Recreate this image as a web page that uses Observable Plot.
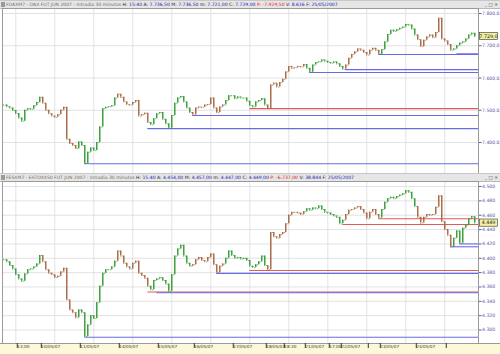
<!DOCTYPE html>
<html><head><meta charset="utf-8">
<script src="https://cdn.jsdelivr.net/npm/d3@7"></script>
<script src="https://cdn.jsdelivr.net/npm/@observablehq/plot@0.6"></script>
<style>
body{margin:0;background:#fff;font-family:"DejaVu Sans",sans-serif;}
#wrap{position:relative;width:500px;height:354px;overflow:hidden;background:#fff}
.hdr{position:absolute;left:0;width:500px;height:7px;background:#e6e6e6;border-top:1px solid #c8c8c8;border-bottom:1px solid #b8b8b8;font-size:4.55px;line-height:7px;white-space:nowrap;color:#7a6a5a;}
.hdr .ic{display:inline-block;width:4px;height:5px;background:#9a9a9a;margin:0 1px 0 1px;vertical-align:middle}
.hdr .b{color:#1a1ab0}.hdr .k{color:#222}.hdr .r{color:#e02020}
.btn{position:absolute;right:2px;top:1px;font-size:4.5px;line-height:5px;color:#333}
.panel{position:absolute;left:0}
#xband{position:absolute;left:0;top:343px;width:500px;height:11px;background:#fdf9d8;border-top:1px solid #999}
</style></head>
<body><div id="wrap">
<div class="hdr" style="top:0"><span class="ic"></span>FDAXM7 - DAX FUT JUN 2007 - Intradia 30 minutos <span class="k">H:</span> <span class="b">15:40</span> <span class="k">A:</span> <span class="b">7.736,50</span> <span class="k">M:</span> <span class="b">7.736,50</span> <span class="k">m:</span> <span class="b">7.721,00</span> <span class="k">C:</span> <span class="b">7.729,00</span> <span class="r">P: -7.929,50</span> <span class="k">V:</span> <span class="b">8.616</span> <span class="k">F:</span> <span class="b">25/05/2007</span><span class="btn">_ □ ×</span></div>
<div class="panel" id="p1" style="top:8px"></div>
<div class="hdr" style="top:173px"><span class="ic"></span>FESXM7 - ESTOXX50 FUT JUN 2007 - Intradia 30 minutos <span class="k">H:</span> <span class="b">15:40</span> <span class="k">A:</span> <span class="b">4.454,00</span> <span class="k">M:</span> <span class="b">4.457,00</span> <span class="k">m:</span> <span class="b">4.447,00</span> <span class="k">C:</span> <span class="b">4.449,00</span> <span class="r">P: -6.737,00</span> <span class="k">V:</span> <span class="b">38.844</span> <span class="k">F:</span> <span class="b">25/05/2007</span><span class="btn">_ □ ×</span></div>
<div id="xband"></div>
<div class="panel" id="p2" style="top:181px"></div>
</div>
<script>
// ---------- DATA ----------
// DAX future, 30-minute closes (sampled bars), 9/05/07 - 25/05/07
const daxClose = [7516,7511,7507,7499,7490,7476,7466,7500,7505,7503,
7514,7524,7540,7522,7500,7489,7482,7478,7486,7500,
7509,7410,7397,7391,7381,7402,7391,7335,7370,7383,
7375,7400,7448,7505,7509,7511,7514,7538,7550,7540,
7526,7518,7516,7524,7530,7482,7486,7491,7462,7455,
7474,7489,7493,7472,7458,7444,7484,7522,7538,7543,
7526,7507,7493,7485,7507,7510,7509,7516,7518,7538,
7507,7493,7510,7516,7530,7545,7545,7536,7541,7538,
7538,7528,7514,7510,7526,7530,7536,7516,7505,7578,
7584,7572,7586,7596,7619,7636,7630,7632,7636,7634,
7642,7630,7618,7640,7648,7650,7656,7652,7648,7646,
7650,7644,7636,7627,7640,7661,7673,7681,7690,7686,
7679,7671,7686,7692,7686,7674,7688,7712,7735,7748,
7744,7750,7754,7758,7766,7764,7752,7733,7719,7698,
7717,7727,7733,7725,7741,7785,7721,7715,7704,7686,
7690,7700,7708,7712,7721,7733,7739,7729];
// ESTX50 future, 30-minute closes
const esxClose = [4398,4395,4390,4385,4377,4371,4368,4378,4384,4385,
4388,4392,4404,4395,4384,4379,4377,4373,4375,4381,
4386,4342,4328,4324,4317,4328,4324,4291,4307,4320,
4316,4338,4361,4379,4384,4384,4388,4396,4410,4403,
4393,4388,4385,4393,4396,4379,4376,4372,4361,4356,
4369,4371,4373,4369,4364,4354,4377,4403,4413,4418,
4403,4393,4389,4391,4398,4401,4397,4395,4401,4406,
4391,4380,4389,4392,4400,4410,4404,4400,4401,4399,
4400,4397,4389,4387,4391,4395,4403,4390,4384,4436,
4430,4428,4433,4436,4448,4460,4464,4464,4463,4461,
4465,4469,4467,4470,4469,4473,4468,4464,4463,4461,
4459,4457,4448,4453,4461,4467,4468,4470,4472,4468,
4463,4455,4464,4468,4461,4456,4468,4478,4483,4485,
4483,4486,4488,4490,4494,4492,4483,4472,4457,4449,
4457,4461,4460,4461,4471,4487,4451,4440,4432,4416,
4428,4438,4421,4442,4446,4455,4458,4449];
// trend regime switches: [bar index, direction]
const daxTrend = [[0,"up"],[13,"down"],[25,"up"],[38,"down"],[49,"up"],[63,"down"],[74,"up"],[88,"down"],[101,"up"],[114,"down"],[126,"up"],[138,"down"],[150,"up"]];
const esxTrend = [[0,"up"],[13,"down"],[25,"up"],[38,"down"],[49,"up"],[63,"down"],[74,"up"],[88,"down"],[101,"up"],[114,"down"],[126,"up"],[138,"down"],[150,"up"]];
// support / resistance levels: [from bar, price, kind]
const daxLevels = [[27,7334,"sup"],[48,7443,"sup"],[63,7484,"sup"],[82,7505,"res"],[102,7617,"sup"],[114,7626,"sup"],[125,7673,"sup"],[151,7675,"sup"]];
const esxLevels = [[27,4290,"sup"],[48,4353,"res"],[51,4352,"sup"],[71,4379,"sup"],[82,4383,"res"],[113,4447,"res"],[125,4455,"res"],[149,4416,"sup"],[152,4420,"sup"]];
// axes
const daxTicks = [7400,7500,7600,7700,7800];
const esxTicks = [4300,4320,4340,4360,4380,4400,4420,4440,4460,4480,4500];
const xTickBars = [4,12,25,38,51,63,76,87,93,100,108,112,121,125,137,147];
const xTickLabels = ["13:00","10/05/07","11/05/07","14/05/07","15/05/07","16/05/07","17/05/07","18/05/07","18:30","21/05/07","17:00","22/05/07","","23/05/07","24/05/07",""];
const gridBars = [4,17,30,43,56,69,82,95,108,121,134,147];

// ---------- DRAW ----------
const loc = d3.formatLocale({decimal:",", thousands:".", grouping:[3], currency:["",""]});
const fmtDax = loc.format(",.1f");
const fmtEsx = loc.format(",.0f");
const X_DOMAIN = [-0.43, 158.24];
const GREEN = "#2f9a2f", BROWN = "#a4643c", BLUE = "#6a6ae6", RED = "#e25a5a";

function rowsOf(close, trend) {
  let t = 0;
  return close.map((c, i) => {
    while (t + 1 < trend.length && trend[t + 1][0] <= i) t++;
    const o = i ? close[i - 1] : c;
    return {i, o, c, lo: Math.min(o, c), hi: Math.max(o, c), dir: trend[t][1]};
  });
}

function panel(el, close, trend, levels, ticks, fmt, domain, height, marginBottom, withX) {
  const rows = rowsOf(close, trend);
  const lv = levels.map(([from, v, k]) => ({from, v, k}));
  const marks = [
    Plot.ruleX(gridBars, {stroke: "#dadada", strokeWidth: 0.8}),
    Plot.ruleY(ticks, {stroke: "#dadada", strokeWidth: 0.8}),
    Plot.ruleY(lv, {y: "v", x1: "from", x2: X_DOMAIN[1], stroke: "k", strokeWidth: 1.1}),
    Plot.ruleX(rows, {x: "i", y1: "lo", y2: "hi", stroke: "dir", strokeWidth: 1.4}),
    Plot.ruleY(rows, {y: "o", x1: d => d.i - 0.3, x2: "i", stroke: "dir", strokeWidth: 1}),
    Plot.ruleY(rows, {y: "c", x1: "i", x2: d => d.i + 0.3, stroke: "dir", strokeWidth: 1}),
    Plot.frame({stroke: "#9a9a9a", strokeWidth: 1}),
    Plot.axisY(ticks, {anchor: "right", tickFormat: fmt, tickSize: 2.5, tickPadding: 1, fontSize: 4.6, color: "#5a5aa8", fontFamily: "DejaVu Sans"})
  ];
  if (withX) {
    marks.push(Plot.axisX(xTickBars, {anchor: "bottom", tickSize: 5, tickPadding: -3.5, textAnchor: "start", dx: 1.5,
      tickFormat: (d, i) => xTickLabels[i], fontSize: 4.2, color: "#333", fontFamily: "DejaVu Sans"}));
  }
  const svg = Plot.plot({
    width: 500, height, marginLeft: 2, marginRight: 22, marginTop: 0, marginBottom,
    x: {domain: X_DOMAIN, axis: null},
    y: {domain, axis: null},
    color: {domain: ["up", "down", "sup", "res"], range: [GREEN, BROWN, BLUE, RED]},
    style: {background: "transparent", overflow: "visible"},
    marks
  });
  // last-price marker box on the price axis
  const last = close[close.length - 1];
  const y = svg.scale("y").apply(last);
  const g = d3.select(svg).append("g");
  g.append("rect").attr("x", 479.5).attr("y", y - 3.6).attr("width", 18).attr("height", 7.2)
    .attr("fill", "#f4f0a0").attr("stroke", "#333").attr("stroke-width", 0.6);
  g.append("text").attr("x", 488.5).attr("y", y).attr("dy", "0.35em").attr("text-anchor", "middle")
    .attr("font-size", 4.8).attr("font-family", "DejaVu Sans").attr("fill", "#222").text(fmt(last));
  document.getElementById(el).appendChild(svg);
}

panel("p1", daxClose, daxTrend, daxLevels, daxTicks, fmtDax, [7304, 7815.5], 165, 0, false);
panel("p2", esxClose, esxTrend, esxLevels, esxTicks, fmtEsx, [4281.2, 4507], 173, 11, true);
</script>
</body></html>
